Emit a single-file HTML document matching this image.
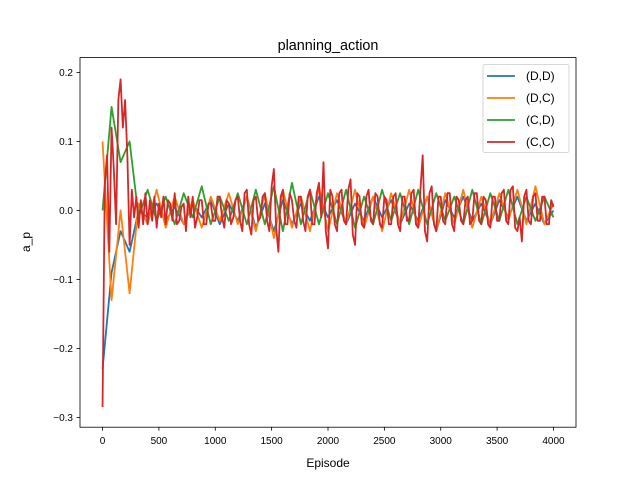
<!DOCTYPE html>
<html><head><meta charset="utf-8"><style>
body{margin:0;background:#fff;}
svg{font-family:"Liberation Sans","DejaVu Sans",sans-serif;}
</style></head><body>
<svg id="chart" width="640" height="480" xmlns="http://www.w3.org/2000/svg">
<rect width="640" height="480" fill="#fff"/>
<text x="328" y="50" font-size="14.4" text-anchor="middle">planning_action</text>
<text x="328" y="467" font-size="12" text-anchor="middle">Episode</text>
<text x="30" y="242" font-size="12" text-anchor="middle" transform="rotate(-90 30 242)">a_p</text>
<g id="series"></g>
<g id="axes"></g>
</svg>
<script>
const seriesNames = ["(D,D)","(D,C)","(C,D)","(C,C)"];
const seriesColors = ["#1f77b4","#ff7f0e","#2ca02c","#d62728"];
const xTicks = [0,500,1000,1500,2000,2500,3000,3500,4000];
const yTicks = [0.2,0.1,0.0,-0.1,-0.2,-0.3];
const yTickLabels = ["0.2","0.1","0.0","−0.1","−0.2","−0.3"];
const stepDD = 80, stepDC = 80, stepCD = 80, stepCC = 20;
const valuesDD = [-0.23,-0.09,-0.03,-0.06,0.0,-0.01,0.01,-0.015,0.005,-0.02,0.01,-0.01,0.015,-0.02,0.01,-0.015,0.02,-0.025,0.01,-0.03,0.015,-0.02,0.01,-0.015,0.02,-0.01,0.015,-0.02,0.01,-0.015,0.02,-0.01,0.015,-0.02,0.01,-0.015,0.02,-0.03,0.015,-0.01,0.02,-0.015,0.01,-0.02,0.015,-0.01,0.02,-0.015,0.01,-0.02,0.0];
const valuesDC = [0.1,-0.13,0.0,-0.12,0.01,-0.02,0.03,-0.025,0.02,-0.02,0.015,-0.025,0.02,-0.015,0.025,-0.02,0.02,-0.03,0.025,-0.04,0.03,-0.025,0.02,-0.03,0.035,-0.03,0.025,-0.02,0.03,-0.025,0.02,-0.03,0.025,-0.02,0.03,-0.025,0.02,-0.03,0.025,-0.02,0.03,-0.025,0.02,-0.02,0.025,-0.015,0.03,-0.02,0.035,-0.02,0.01];
const valuesCD = [0.0,0.15,0.07,0.1,-0.01,0.03,-0.015,0.02,-0.02,0.025,-0.01,0.035,-0.02,0.02,-0.015,0.025,-0.02,0.03,-0.02,0.035,-0.03,0.04,-0.02,0.03,-0.02,0.025,-0.02,0.03,-0.025,0.02,-0.02,0.03,-0.015,0.025,-0.02,0.03,-0.02,0.025,-0.015,0.02,-0.02,0.03,-0.02,0.025,-0.015,0.03,-0.02,0.02,-0.015,0.02,-0.01];
// (C,C) values in thousandths
const valuesCCmilli = [
-285,40,80,-60,120,60,-20,160,190,120,
160,80,-50,30,-10,20,-25,15,-20,25,
-20,15,-15,20,-25,10,-10,20,-20,15,
10,-15,25,-20,-15,5,10,-30,20,-10,
20,-25,-10,15,15,-20,-20,10,10,-15,
-15,20,20,-10,-25,15,10,-20,-10,15,
20,-15,-30,25,30,-20,-35,15,20,-15,
-10,20,25,-15,-30,35,60,-25,-60,20,
30,-20,-20,25,15,-15,-25,20,20,-15,
-30,20,30,-20,-20,25,40,-10,70,-30,
-55,30,20,-20,-30,25,30,-15,-20,30,
45,-35,-50,25,20,-20,-25,20,30,-15,
-20,25,20,-20,-25,20,15,-20,-20,20,
25,-20,-30,20,20,-15,-15,25,30,-20,
-25,30,80,-30,-45,25,35,-20,-30,20,
20,-15,-20,25,25,-20,-30,20,15,-15,
-20,15,20,-20,-15,25,25,-15,-20,20,
15,-20,-25,20,20,-15,-15,25,30,-15,
-20,30,35,-25,-30,-10,-45,20,30,-15,
-20,20,25,-15,-15,20,20,-20,-20,15,
5];

const NS="http://www.w3.org/2000/svg";
const L=80,R=576,T=57.6,B=427.2;
const xMin=-200,xMax=4200,yMin=-0.3141,yMax=0.2215;
function xs(v){return L+(v-xMin)/(xMax-xMin)*(R-L);}
function ys(v){return B-(v-yMin)/(yMax-yMin)*(B-T);}
function mk(tag,attrs,parent){const e=document.createElementNS(NS,tag);for(const k in attrs)e.setAttribute(k,attrs[k]);parent.appendChild(e);return e;}

const sg=document.getElementById('series');
const valuesCC=valuesCCmilli.map(v=>v/1000);
const allVals=[valuesDD,valuesDC,valuesCD,valuesCC];
const steps=[stepDD,stepDC,stepCD,stepCC];
const keys=["dd","dc","cd","cc"];
allVals.forEach((vals,i)=>{
  const d=vals.map((v,j)=>(j?"L":"M")+xs(j*steps[i]).toFixed(2)+","+ys(v).toFixed(2)).join(" ");
  const p=mk('path',{d:d,fill:"none",stroke:seriesColors[i],"stroke-width":1.8,"stroke-linejoin":"round"},sg);
  
  
});

const ax=document.getElementById('axes');
const frame=mk('rect',{x:L,y:T,width:R-L,height:B-T,fill:"none",stroke:"#000","stroke-width":0.8},ax);


xTicks.forEach(t=>{
  const x=xs(t);
  const tk=mk('line',{x1:x,x2:x,y1:B,y2:B+3.5,stroke:"#000","stroke-width":0.8},ax);
  
  
  const tx=mk('text',{x:x,y:B+17,"font-size":10,"text-anchor":"middle"},ax);
  tx.textContent=t;
  
  
});
yTicks.forEach((t,i)=>{
  const y=ys(t);
  const tk=mk('line',{x1:L-3.5,x2:L,y1:y,y2:y,stroke:"#000","stroke-width":0.8},ax);
  
  
  const tx=mk('text',{x:L-7,y:y+3.5,"font-size":10,"text-anchor":"end"},ax);
  tx.textContent=yTickLabels[i];
  
  
});
const lg=mk('g',{},ax);


mk('rect',{x:483,y:64.5,width:86,height:88,rx:2,fill:"#fff","fill-opacity":0.8,stroke:"#ccc","stroke-width":0.8},lg);
seriesNames.forEach((n,i)=>{
  const y=76+i*22;
  const g=mk('g',{},lg);
  
  
  mk('line',{x1:487,x2:515,y1:y,y2:y,stroke:seriesColors[i],"stroke-width":1.8},g);
  const t=mk('text',{x:526,y:y+4,"font-size":12},g);
  t.textContent=n;
});
</script>
</body></html>
